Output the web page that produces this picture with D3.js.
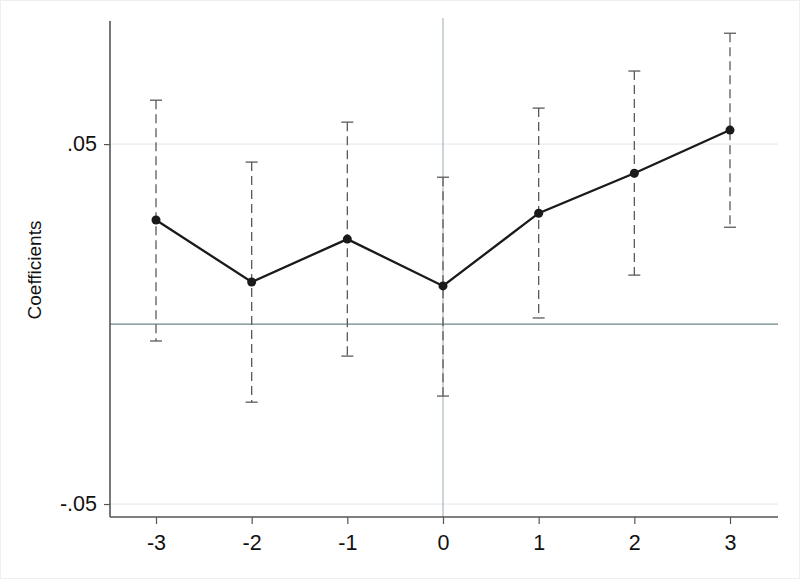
<!DOCTYPE html>
<html><head><meta charset="utf-8">
<script src="https://cdn.jsdelivr.net/npm/d3@7"></script>
<style>body{margin:0;background:#fff}svg{display:block}</style>
</head><body>
<script>
const periods = [-3, -2, -1, 0, 1, 2, 3];
const periodLabels = ["-3", "-2", "-1", "0", "1", "2", "3"];
const coefs   = [0.0289, 0.0117, 0.0236, 0.0106, 0.0308, 0.0419, 0.0539];
const ciLow   = [-0.0047, -0.0217, -0.0089, -0.0200, 0.0017, 0.0136, 0.0269];
const ciHigh  = [0.0622, 0.0450, 0.0561, 0.0408, 0.0600, 0.0703, 0.0808];
const yTicks  = [-0.05, 0.05];
const yTickLabels = ["-.05", ".05"];
const yLabel = "Coefficients";

const W = 800, H = 579;
const FONT = "Liberation Sans, Arial, Helvetica, sans-serif";
const svg = d3.select("body").append("svg").attr("width", W).attr("height", H);
svg.append("rect").attr("x",0.5).attr("y",0.5).attr("width",W-1).attr("height",H-1)
  .attr("fill","#fff").attr("stroke","#eef0f0");

const L = 110, R = 778, T = 21, B = 517;
const x = d3.scaleLinear().domain([-3, 3]).range([156, 730]);
const y = d3.scaleLinear().domain([-0.0536, 0.0842]).range([B, T]);

// gridlines
svg.append("g").selectAll("line").data(yTicks).join("line")
  .attr("x1", L).attr("x2", R).attr("y1", d => y(d)).attr("y2", d => y(d))
  .attr("stroke", "#e6ecec").attr("stroke-width", 1.2);

// reference lines
svg.append("line").attr("x1", x(0)).attr("x2", x(0)).attr("y1", T - 3).attr("y2", B)
  .attr("stroke", "#a9b9bf").attr("stroke-width", 1.2);
svg.append("line").attr("x1", L).attr("x2", R).attr("y1", y(0)).attr("y2", y(0))
  .attr("stroke", "#6e8585").attr("stroke-width", 1.2);

// axes
const yAxis = d3.axisLeft(y).tickValues(yTicks).tickFormat((d,i) => yTickLabels[i]).tickSize(6).tickPadding(7);
const gy = svg.append("g").attr("transform", `translate(${L},0)`).call(yAxis);
gy.select(".domain").attr("d", `M0,${T}V${B}`);
const xAxis = d3.axisBottom(x).tickValues(periods).tickFormat((d,i) => periodLabels[i]).tickSize(7).tickPadding(11);
const gx = svg.append("g").attr("transform", `translate(0,${B})`).call(xAxis);
gx.select(".domain").attr("d", `M${L},0H${R}`);
[gx, gy].forEach(g => {
  g.select(".domain").attr("stroke", "#555").attr("stroke-width", 1.6);
  g.selectAll(".tick line").attr("stroke", "#555").attr("stroke-width", 1.2);
  g.selectAll(".tick text").attr("fill", "#111").attr("font-family", FONT).attr("font-size", 21.5);
});
gx.selectAll(".tick text").attr("dy", "0.71em");

svg.append("text").attr("transform", `translate(41,${270}) rotate(-90)`)
  .attr("text-anchor", "middle").attr("font-family", FONT)
  .attr("font-size", 19).attr("fill", "#111").text(yLabel);

// error bars
const data = periods.map((p, i) => ({p, c: coefs[i], lo: ciLow[i], hi: ciHigh[i]}));
const eb = svg.append("g");
eb.selectAll("line.v").data(data).join("line").attr("class","v")
  .attr("x1", d => x(d.p)).attr("x2", d => x(d.p)).attr("y1", d => y(d.hi)).attr("y2", d => y(d.lo))
  .attr("stroke", "#5a5a5a").attr("stroke-width", 1.3).attr("stroke-dasharray", "9,5");
["hi","lo"].forEach(k => {
  eb.selectAll("line.c"+k).data(data).join("line").attr("class","c"+k)
    .attr("x1", d => x(d.p) - 6).attr("x2", d => x(d.p) + 6)
    .attr("y1", d => y(d[k])).attr("y2", d => y(d[k]))
    .attr("stroke", "#5a5a5a").attr("stroke-width", 1.3);
});

// line + points
svg.append("path").datum(data)
  .attr("d", d3.line().x(d => x(d.p)).y(d => y(d.c)))
  .attr("fill", "none").attr("stroke", "#1a1a1a").attr("stroke-width", 2.3);
svg.append("g").selectAll("circle").data(data).join("circle")
  .attr("cx", d => x(d.p)).attr("cy", d => y(d.c)).attr("r", 4.5).attr("fill", "#1a1a1a");
</script>
</body></html>
